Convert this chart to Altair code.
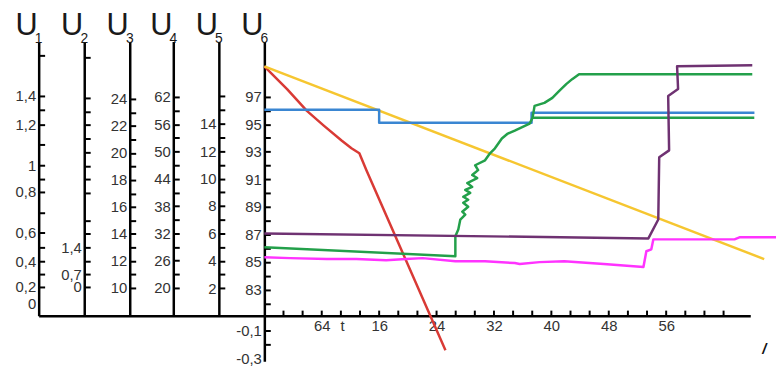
import altair as alt
import pandas as pd

# ---------------- data: time t and value (U6 units) ----------------
RED_T = [0.0, 3.17, 5.93, 8.28, 10.76, 12.14, 13.24, 14.21, 25.24]
RED_U = [99.20, 97.55, 95.97, 94.90, 93.82, 93.25, 92.89, 91.67, 78.60]

YELLOW_T = [0.0, 69.66]
YELLOW_U = [99.20, 85.21]

BLUE_T = [0.0, 16.0, 16.0, 37.24, 37.24, 68.3]
BLUE_U = [96.05, 96.05, 95.11, 95.11, 95.83, 95.83]

GREEN_T = [0.0, 26.62, 26.62, 27.03, 27.31, 28.0, 27.59, 28.41, 27.72, 28.41, 27.72,
           28.69, 28.0, 28.97, 28.28, 29.66, 28.97, 29.79, 29.38, 30.76, 31.45, 32.14,
           33.10, 33.93, 34.90, 36.97, 37.38, 37.66, 39.03, 40.14, 41.10, 42.07, 42.90,
           43.86, 68.0]
GREEN_U = [86.07, 85.42, 86.86, 87.36, 88.08, 88.44, 88.65, 89.01, 89.30, 89.52, 89.73,
           90.02, 90.23, 90.45, 90.73, 91.09, 91.31, 91.67, 92.02, 92.38, 92.89, 93.25,
           93.96, 94.32, 94.54, 95.04, 95.47, 96.33, 96.55, 96.91, 97.41, 97.91, 98.27,
           98.63, 98.63]

GREEN2_T = [37.38, 68.28]
GREEN2_U = [95.47, 95.47]

PURPLE_T = [0.0, 53.52, 54.90, 55.03, 56.41, 56.28, 57.66, 57.52, 68.0]
PURPLE_U = [87.07, 86.71, 88.08, 92.60, 93.10, 97.05, 97.55, 99.20, 99.28]

MAGENTA_T = [0.0, 3.59, 8.69, 12.83, 16.97, 19.72, 22.07, 26.62, 30.76, 34.90, 35.59,
             38.34, 41.79, 47.31, 52.83, 53.24, 53.93, 54.21, 65.52, 66.21, 71.31]
MAGENTA_U = [85.35, 85.28, 85.21, 85.21, 85.13, 85.21, 85.28, 85.06, 85.06, 84.92, 84.85,
             84.99, 85.06, 84.85, 84.63, 85.78, 85.92, 86.64, 86.64, 86.79, 86.79]

SERIES = ["red", "yellow", "blue", "green", "green2", "purple", "magenta"]
COLORS = ["#d93a35", "#f6c630", "#3a86d2", "#23a04a", "#23a04a", "#6f3272", "#ff33ff"]

# ---------------- axes: ticks and labels ----------------
T_TICKS = [round(k * 8 / 3, 3) for k in range(1, 25)]
T_LABEL_VALUES = [8, 16, 24, 32, 40, 48, 56]
T_LABEL_TEXT = ["64", "16", "24", "32", "40", "48", "56"]
T_TITLE = "t"

U1_TICKS = [0.2, 0.3, 0.4, 0.5, 0.6, 0.7, 0.8, 0.9, 1.0, 1.1, 1.2, 1.3, 1.4, 1.7]
U1_LABEL_VALUES = [0, 0.2, 0.4, 0.6, 0.8, 1.0, 1.2, 1.4]
U1_LABEL_TEXT = ["0", "0,2", "0,4", "0,6", "0,8", "1", "1,2", "1,4"]

U2_TICKS = [0, 0.7, 1.05, 1.4, 1.75, 2.1, 2.8, 3.15, 3.5, 3.85, 4.2, 4.55, 4.9, 5.25, 6.3]
U2_LABEL_VALUES = [0, 0.7, 1.4]
U2_LABEL_TEXT = ["0", "0,7", "1,4"]

U3_TICKS = list(range(10, 25))
U3_LABEL_VALUES = [10, 12, 14, 16, 18, 20, 22, 24]
U3_LABEL_TEXT = ["10", "12", "14", "16", "18", "20", "22", "24"]

U4_TICKS = list(range(20, 63, 3))
U4_LABEL_VALUES = [20, 26, 32, 38, 44, 50, 56, 62]
U4_LABEL_TEXT = ["20", "26", "32", "38", "44", "50", "56", "62"]

U5_TICKS = list(range(2, 17))
U5_LABEL_VALUES = [2, 4, 6, 8, 10, 12, 14]
U5_LABEL_TEXT = ["2", "4", "6", "8", "10", "12", "14"]

U6_TICKS = [79, 80] + list(range(82, 98))
U6_LABEL_VALUES = [78, 80, 83, 85, 87, 89, 91, 93, 95, 97]
U6_LABEL_TEXT = ["-0,3", "-0,1", "83", "85", "87", "89", "91", "93", "95", "97"]

TITLE_DIGITS = ["1", "2", "3", "4", "5", "6"]

# ---------------- layout ----------------
W, H = 719, 323
T_MIN, T_MAX = -31.45, 67.72
Y_MIN, Y_MAX = 77.8, 101.0
PX_T = W / (T_MAX - T_MIN)
PX_U = H / (Y_MAX - Y_MIN)
BASE_U = 81.11
BASE_PX = round((Y_MAX - BASE_U) * PX_U)
TICK_PX = 5
AXIS_T = [-31.45, -25.1, -18.76, -12.69, -6.34, 0.0]

U1_DOMAIN = [-0.15, 0, 0.2, 0.4, 0.6, 0.8, 1.0, 1.2, 1.4, 1.8]
U1_RANGE = [BASE_PX, 265, 248, 222, 193, 152, 125, 84, 55, 0]
U2_DOMAIN = [-1.5, 0, 0.7, 1.4, 6.7]
U2_RANGE = [BASE_PX, 248, 235, 208, 0]
U3_DOMAIN = [7.95, 28.25]
U4_DOMAIN = [13.9, 74.2]
U5_DOMAIN = [0, 20]
U6_DOMAIN = [Y_MIN, Y_MAX]

LABEL_FONT = "Liberation Sans"
LABEL_COLOR = "#333333"

XSC = alt.Scale(domain=[T_MIN, T_MAX], nice=False, zero=False)


def ysc():
    return alt.Scale(domain=U6_DOMAIN, nice=False, zero=False)


def label_expr(values, texts):
    expr = "''"
    for v, s in reversed(list(zip(values, texts))):
        expr = f"datum.value == {v} ? '{s}' : ({expr})"
    return expr


def hide_ticks(ticks, label_values):
    hidden = [v for v in label_values if v not in ticks]
    if not hidden:
        return 1
    return {"condition": {"test": f"indexof({hidden}, datum.value) >= 0", "value": 0}, "value": 1}


def right_offset(t):
    return (t - T_MAX) * PX_T


# the time axis (baseline + labels below it); every layer shares this one axis
X_AXIS = alt.Axis(
    orient="bottom", offset=-(H - BASE_PX), values=T_LABEL_VALUES,
    labelExpr=label_expr(T_LABEL_VALUES, T_LABEL_TEXT),
    ticks=False, domain=True, labelPadding=3, title=None,
)


def xenc():
    return alt.X("t:Q", scale=XSC, axis=X_AXIS)


# ---------------- lines ----------------
rows = []
for name, ts, us in [
    ("red", RED_T, RED_U), ("yellow", YELLOW_T, YELLOW_U), ("blue", BLUE_T, BLUE_U),
    ("green", GREEN_T, GREEN_U), ("green2", GREEN2_T, GREEN2_U),
    ("purple", PURPLE_T, PURPLE_U), ("magenta", MAGENTA_T, MAGENTA_U),
]:
    for i, (t, u) in enumerate(zip(ts, us)):
        rows.append({"s": name, "t": t, "u": u, "i": i})
lines_df = pd.DataFrame(rows)

lines = alt.Chart(lines_df).mark_line(strokeWidth=2.5, strokeJoin="round").encode(
    x=xenc(),
    y=alt.Y("u:Q", scale=ysc(), axis=None),
    color=alt.Color("s:N", scale=alt.Scale(domain=SERIES, range=COLORS), legend=None),
    order=alt.Order("i:Q"),
)

# short time-axis ticks pointing up from the baseline
time_df = pd.DataFrame({
    "t": T_TICKS,
    "u": [BASE_U] * len(T_TICKS),
    "u2": [BASE_U + TICK_PX / PX_U] * len(T_TICKS),
})
time_ticks = alt.Chart(time_df).mark_rule(strokeWidth=2, color="#000").encode(
    x=xenc(),
    y=alt.Y("u:Q", scale=ysc(), axis=None),
    y2="u2:Q",
)
t_title_df = pd.DataFrame({"t": [T_LABEL_VALUES[0]], "u": [BASE_U], "s": [T_TITLE]})
t_title = alt.Chart(t_title_df).mark_text(
    align="center", baseline="top", dx=21, dy=4, fontSize=15,
    font=LABEL_FONT, color=LABEL_COLOR,
).encode(x=xenc(), y=alt.Y("u:Q", scale=ysc(), axis=None), text="s:N")

titles_df = pd.DataFrame({"t": AXIS_T, "y": [Y_MAX] * 6, "u": ["U"] * 6, "n": TITLE_DIGITS})
title_u = alt.Chart(titles_df).mark_text(
    align="right", baseline="alphabetic", dx=-1, dy=-7, fontSize=31,
    font=LABEL_FONT, color="#1a1a1a",
).encode(x=xenc(), y=alt.Y("y:Q", scale=ysc(), axis=None), text="u:N")
title_n = alt.Chart(titles_df).mark_text(
    align="center", baseline="middle", dy=-3, fontSize=14,
    font=LABEL_FONT, color="#1a1a1a",
).encode(x=xenc(), y=alt.Y("y:Q", scale=ysc(), axis=None), text="n:N")

slash_df = pd.DataFrame({"t": [69.66], "y": [78.7], "s": ["/"]})
slash = alt.Chart(slash_df).mark_text(
    fontSize=15, fontWeight="bold", fontStyle="italic", color="#111", font=LABEL_FONT
).encode(x=xenc(), y=alt.Y("y:Q", scale=ysc(), axis=None), text="s:N")


def u_layer(t_pos, ticks, label_values, label_text, scale):
    values = sorted(set(ticks) | set(label_values))
    df = pd.DataFrame({"t": [t_pos] * len(values), "v": values})
    axis = alt.Axis(
        orient="right", offset=right_offset(t_pos), values=values,
        labelExpr=label_expr(label_values, label_text),
        tickOpacity=hide_ticks(ticks, label_values),
        labelAlign="right", labelPadding=-9, title=None,
    )
    return alt.Chart(df).mark_point(opacity=0).encode(
        x=xenc(),
        y=alt.Y("v:Q", scale=scale, axis=axis),
    )


def piece(domain, rng):
    return alt.Scale(type="linear", domain=domain, range=rng, nice=False, zero=False)


u1 = u_layer(AXIS_T[0], U1_TICKS, U1_LABEL_VALUES, U1_LABEL_TEXT, piece(U1_DOMAIN, U1_RANGE))
u2 = u_layer(AXIS_T[1], U2_TICKS, U2_LABEL_VALUES, U2_LABEL_TEXT, piece(U2_DOMAIN, U2_RANGE))
u3 = u_layer(AXIS_T[2], U3_TICKS, U3_LABEL_VALUES, U3_LABEL_TEXT, piece(U3_DOMAIN, [BASE_PX, 0]))
u4 = u_layer(AXIS_T[3], U4_TICKS, U4_LABEL_VALUES, U4_LABEL_TEXT, piece(U4_DOMAIN, [BASE_PX, 0]))
u5 = u_layer(AXIS_T[4], U5_TICKS, U5_LABEL_VALUES, U5_LABEL_TEXT, piece(U5_DOMAIN, [BASE_PX, 0]))
u6 = u_layer(AXIS_T[5], U6_TICKS, U6_LABEL_VALUES, U6_LABEL_TEXT, ysc())

chart = alt.layer(
    u1, u2, u3, u4, u5, u6, time_ticks, t_title, lines, title_u, title_n, slash
).resolve_scale(y="independent").properties(
    width=W, height=H,
    autosize=alt.AutoSizeParams(type="none"),
    padding={"left": 31, "top": 32, "right": 26, "bottom": 3},
).configure_axis(
    grid=False, domainColor="#000", domainWidth=2.5, tickColor="#000", tickWidth=2,
    tickSize=6, labelFont=LABEL_FONT, labelFontSize=15, labelColor=LABEL_COLOR,
    labelOverlap=False, labelFlush=False, labelBound=False,
).configure_view(stroke=None)

chart.save("out.html", embed_options={"renderer": "svg", "actions": False})
